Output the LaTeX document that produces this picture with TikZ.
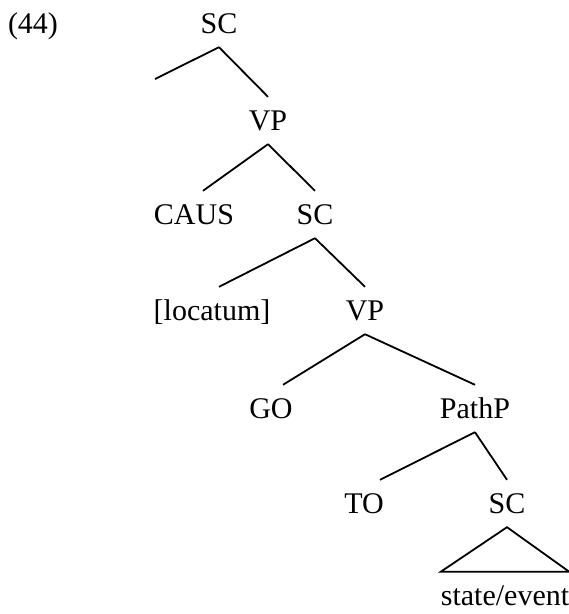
\documentclass[tikz,border=0pt]{standalone}
\usepackage{fontspec}
\setmainfont{Liberation Serif}
\usetikzlibrary{calc}
\tikzset{
    cat-node/.style={
        anchor=base, inner xsep=0pt, inner ysep=14pt,
        text height=19pt, text depth=0pt
    },
    branch/.style={line width=1.8pt},
}

\begin{document}
\begin{tikzpicture}[x=1pt, y=-1pt, font=\fontsize{30}{36}\selectfont]

        \useasboundingbox (0,0) rectangle (569,614);

        % EXAMPLE NUMBER
        \node[cat-node] (NUM)   at (33,33)   {(44)};

        % TREE NODES
        \node[cat-node] (SCA)   at (219,33)  {SC};
        \coordinate[]   (NULL)  at (155,79);
        \node[cat-node] (VPA)   at (268,130) {VP};
        \node[cat-node] (CAUS)  at (194,224) {CAUS};
        \node[cat-node] (SCB)   at (315,224) {SC};
        \node[cat-node] (LOC)   at (212,320) {[locatum]};
        \node[cat-node] (VPB)   at (365,320) {VP};
        \node[cat-node] (GO)    at (271,418) {GO};
        \node[cat-node] (PATHP) at (475,418) {PathP};
        \node[cat-node] (TO)    at (364,513) {TO};
        \node[cat-node] (SCC)   at (507,513) {SC};
        \node[cat-node] (EVENT) at (505,605) {state/event};

        % BRANCHES
        \draw[branch] (SCA.south)   -- (NULL);
        \draw[branch] (SCA.south)   -- (VPA.north);
        \draw[branch] (VPA.south)   -- ($(CAUS.north) + (9,0)$);
        \draw[branch] (VPA.south)   -- (SCB.north);
        \draw[branch] (SCB.south)   -- ($(LOC.north) + (7,0)$);
        \draw[branch] (SCB.south)   -- (VPB.north);
        \draw[branch] (VPB.south)   -- ($(GO.north) + (12,0)$);
        \draw[branch] (VPB.south)   -- (PATHP.north);
        \draw[branch] (PATHP.south) -- ($(TO.north) + (16,0)$);
        \draw[branch] (PATHP.south) -- (SCC.north);

        % TRIANGLE
        \draw[branch] (SCC.south) -- (EVENT.north east) -- (EVENT.north west) -- cycle;

    \end{tikzpicture}
\end{document}
